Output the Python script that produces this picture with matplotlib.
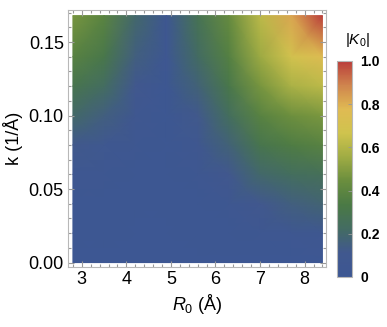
import numpy as np
import matplotlib
matplotlib.use("Agg")
import matplotlib.pyplot as plt
from matplotlib.colors import LinearSegmentedColormap
from matplotlib.ticker import MultipleLocator, FormatStrFormatter

plt.rcParams['font.family'] = ['Liberation Sans', 'DejaVu Sans']
plt.rcParams['mathtext.fontset'] = 'custom'
plt.rcParams['mathtext.rm'] = 'Liberation Sans'
plt.rcParams['mathtext.it'] = 'Liberation Sans:italic'

# grid
r0 = [2.8, 3.5, 4.2, 4.9, 5.6, 6.3, 7.0, 7.7, 8.4]
k = [0.0, 0.02, 0.04, 0.06, 0.08, 0.10, 0.12, 0.14, 0.168]
k0_abs = [
    [0.00, 0.00, 0.00, 0.00, 0.00, 0.00, 0.00, 0.00, 0.00],
    [0.01, 0.01, 0.00, 0.00, 0.01, 0.02, 0.04, 0.05, 0.07],
    [0.02, 0.02, 0.01, 0.01, 0.02, 0.05, 0.11, 0.15, 0.18],
    [0.05, 0.04, 0.02, 0.01, 0.04, 0.11, 0.20, 0.24, 0.26],
    [0.12, 0.08, 0.04, 0.02, 0.07, 0.17, 0.30, 0.35, 0.38],
    [0.21, 0.15, 0.07, 0.02, 0.12, 0.24, 0.38, 0.45, 0.48],
    [0.30, 0.23, 0.11, 0.02, 0.17, 0.31, 0.47, 0.58, 0.62],
    [0.38, 0.31, 0.15, 0.03, 0.22, 0.37, 0.55, 0.68, 0.76],
    [0.47, 0.39, 0.20, 0.04, 0.28, 0.43, 0.62, 0.82, 1.00],
]

# Mathematica "DarkRainbow"
dark_rainbow = [
    (0.237736, 0.340215, 0.575113), (0.253651, 0.344893, 0.558151),
    (0.264425, 0.423024, 0.3849), (0.291469, 0.47717, 0.271411),
    (0.416394, 0.555345, 0.24182), (0.624866, 0.673302, 0.264296),
    (0.813033, 0.766292, 0.303458), (0.877875, 0.731045, 0.326896),
    (0.812807, 0.518694, 0.303459), (0.72987, 0.239399, 0.230961),
]
cmap = LinearSegmentedColormap.from_list("dark_rainbow", dark_rainbow)

frame_col = '#b8b8b8'
tick_col = '#999999'

fig = plt.figure(figsize=(3.87, 3.27), dpi=100)
ax = fig.add_axes([68 / 387, 60 / 327, 258 / 387, 257 / 327])

mesh = ax.pcolormesh(r0, k, np.array(k0_abs), shading='gouraud', cmap=cmap, vmin=0, vmax=1)

ax.set_xlim(2.69, 8.48)
ax.set_ylim(-0.003, 0.1718)
ax.xaxis.set_major_locator(MultipleLocator(1))
ax.xaxis.set_minor_locator(MultipleLocator(0.2))
ax.yaxis.set_major_locator(MultipleLocator(0.05))
ax.yaxis.set_minor_locator(MultipleLocator(0.01))
ax.yaxis.set_major_formatter(FormatStrFormatter('%.2f'))
ax.tick_params(which='both', direction='in', top=True, right=True, color=tick_col,
               labelsize=13, width=0.8)
ax.tick_params(which='major', length=4, pad=3)
ax.tick_params(which='minor', length=2)
for s in ax.spines.values():
    s.set_color(frame_col)

ax.set_xlabel(r'$R_0$ (Å)', fontsize=13, labelpad=3)
ax.set_ylabel('k (1/Å)', fontsize=13, labelpad=4)

cax = fig.add_axes([337 / 387, 50 / 327, 15 / 387, 216 / 327])
cbar = fig.colorbar(mesh, cax=cax, ticks=[0, 0.2, 0.4, 0.6, 0.8, 1.0])
cbar.ax.set_yticklabels(['0', '0.2', '0.4', '0.6', '0.8', '1.0'], fontweight='bold', fontsize=10)
cbar.outline.set_edgecolor(frame_col)
cbar.ax.tick_params(direction='in', color=tick_col, length=3, width=0.6, pad=6)
fig.text(345 / 387, 1 - 40 / 327, r'$|K_0|$', fontsize=11, ha='left', va='center')

fig.savefig('out.png', dpi=100)
